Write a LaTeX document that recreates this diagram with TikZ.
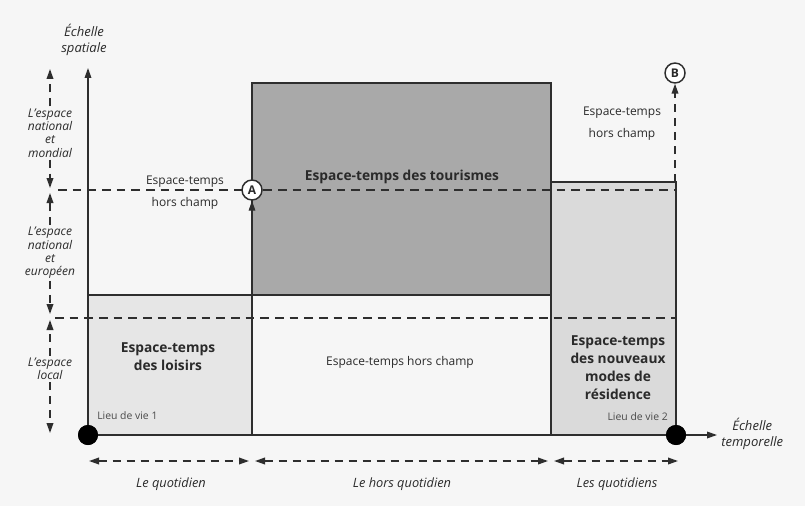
\documentclass[tikz,border=0pt]{standalone}
\usepackage{fontspec}
\setmainfont{Open Sans}
\usetikzlibrary{arrows.meta}
\definecolor{bgc}{HTML}{F6F6F6}
\definecolor{ln}{HTML}{2E2E2E}
\definecolor{tour}{HTML}{A9A9A9}
\definecolor{lois}{HTML}{E6E6E6}
\definecolor{resi}{HTML}{DADADA}
\definecolor{txt}{HTML}{2A2A2A}
\tikzset{
  box/.style={draw=ln, line width=0.8pt},
  axis/.style={draw=ln, line width=0.9pt, -{Triangle[length=7.5pt,width=5pt]}},
  dline/.style={draw=ln, line width=1.1pt, dash pattern=on 6.5pt off 4.5pt},
  darrow/.style={draw=ln, line width=1.1pt, dash pattern=on 6pt off 4.5pt, -{Triangle[length=7.5pt,width=5pt]}},
  dbiarrow/.style={draw=ln, line width=1.1pt, dash pattern=on 6pt off 4.5pt, {Triangle[length=7.5pt,width=5pt]}-{Triangle[length=7.5pt,width=5pt]}},
  lbl/.style={text=txt, font=\fontsize{9}{16.5}\selectfont, align=center, inner sep=0pt},
  blbl/.style={text=txt, font=\fontsize{10.3}{13.5}\bfseries\selectfont, align=center, inner sep=0pt},
  ilbl/.style={text=txt, font=\fontsize{9}{10}\itshape\selectfont, align=center, inner sep=1.5pt},
  qlbl/.style={text=txt, font=\fontsize{9.6}{11}\itshape\selectfont, align=center, inner sep=0pt},
  axlbl/.style={text=txt, font=\fontsize{9.8}{11.5}\itshape\selectfont, align=center, inner sep=0pt},
  slbl/.style={text=txt!85, font=\fontsize{7.8}{9}\selectfont, inner sep=0pt},
  letter/.style={circle, draw=ln, line width=1.1pt, fill=white, minimum size=15pt, inner sep=0pt, font=\fontsize{9}{9}\bfseries\selectfont, text=txt},
  dot/.style={circle, fill=black, minimum size=15pt, inner sep=0pt},
}
\begin{document}
\begin{tikzpicture}[x=0.75pt,y=-0.75pt]
\fill[bgc] (0,0) rectangle (805,506);
\useasboundingbox (0,0) rectangle (805,506);

% rectangles
\draw[box, fill=lois] (88,295) rectangle (252,435);
\draw[box, fill=tour] (252,83) rectangle (551,295);
\draw[box] (252,295) rectangle (551,435);
\draw[box, fill=resi] (551,182) rectangle (676,435);

% dots
\node[dot] (O1) at (88,435) {};
\node[dot] (O2) at (676,435) {};
\coordinate (ytip) at (88,68);
\coordinate (xtip) at (717,435);

% dashed horizontal lines
\coordinate (d1a) at (58,190);
\coordinate (d1b) at (676,190);
\coordinate (d2a) at (55,318);
\coordinate (d2b) at (676,318);
\draw[dline] (d1a) -- (d1b);
\draw[dline] (d2a) -- (d2b);

% axes
\draw[axis] (O1.center) -- (ytip);
\draw[axis] (O1.center) -- (xtip);
\node[dot] at (O1) {};
\node[dot] at (O2) {};

% A and B
\node[letter] (A) at (252,190) {A};
\coordinate (Abase) at (252,295);
\draw[axis, line width=0.8pt] (Abase) -- (A.south);
\node[letter] (B) at (675,73) {B};
\coordinate (Bbase) at (675,182);
\draw[darrow] (Bbase) -- (B.south);

% axis labels
\node[axlbl] (ys) at (84,40) {Échelle\\spatiale};
\node[axlbl, anchor=west] (xt) at (721,434) {Échelle\\temporelle};

% left scale arrows
\node[ilbl] (s1) at (50,133) {L'espace\\national\\et\\mondial};
\coordinate (s1t) at (50,69);
\coordinate (s1b) at (50,188);
\draw[darrow] (s1.north) -- (s1t);
\draw[darrow] (s1.south) -- (s1b);

\node[ilbl] (s2) at (50,253) {L'espace\\national\\et\\européen};
\coordinate (s2t) at (50,193);
\coordinate (s2b) at (50,314);
\draw[darrow] (s2.north) -- (s2t);
\draw[darrow] (s2.south) -- (s2b);

\node[ilbl] (s3) at (50,369) {L'espace\\local};
\coordinate (s3t) at (50,320);
\coordinate (s3b) at (50,433);
\draw[darrow] (s3.north) -- (s3t);
\draw[darrow] (s3.south) -- (s3b);

% bottom time arrows
\coordinate (b1a) at (89,461);
\coordinate (b1b) at (249,461);
\coordinate (b2a) at (255,461);
\coordinate (b2b) at (548,461);
\coordinate (b3a) at (554,461);
\coordinate (b3b) at (678,461);
\draw[dbiarrow] (b1a) -- (b1b);
\draw[dbiarrow] (b2a) -- (b2b);
\draw[dbiarrow] (b3a) -- (b3b);
\node[qlbl] (q1) at (171,484) {Le quotidien};
\node[qlbl] (q2) at (402,484) {Le hors quotidien};
\node[qlbl] (q3) at (617,484) {Les quotidiens};

% region labels
\node[lbl] (hc1) at (185,193) {Espace-temps\\hors champ};
\node[lbl] (hc2) at (622,124) {Espace-temps\\hors champ};
\node[lbl] (hc3) at (400,362) {Espace-temps hors champ};
\node[blbl] (tour) at (402,177) {Espace-temps des tourismes};
\node[blbl] (lois) at (168,357) {Espace-temps\\des loisirs};
\node[blbl] (resi) at (618,368) {Espace-temps\\des nouveaux\\modes de\\résidence};
\node[slbl, anchor=west] (l1) at (97,416) {Lieu de vie 1};
\node[slbl, anchor=east] (l2) at (668,417) {Lieu de vie 2};
\end{tikzpicture}
\end{document}
